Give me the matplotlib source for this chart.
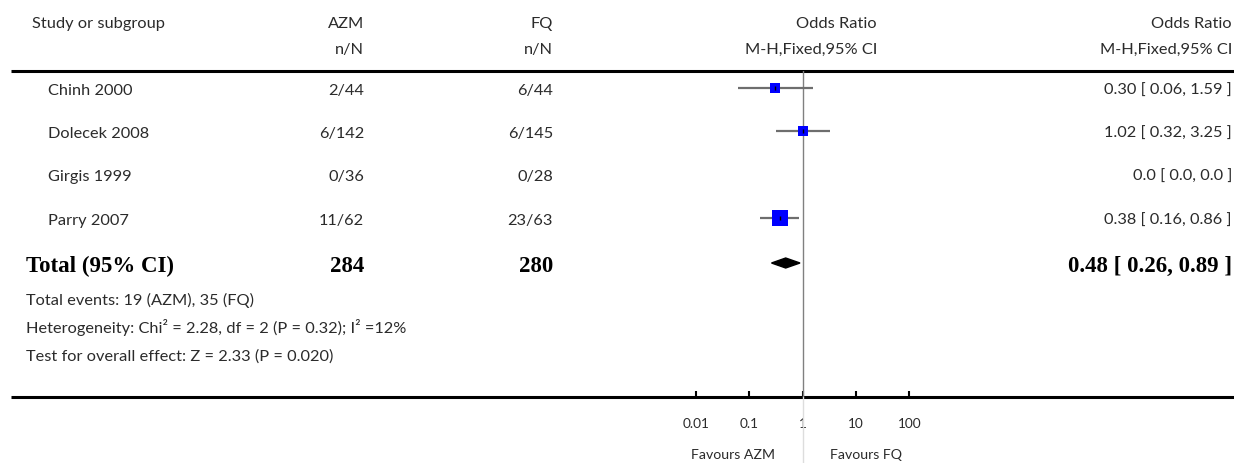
import numpy as np
import matplotlib
matplotlib.use("Agg")
import matplotlib.pyplot as plt
from matplotlib.patches import Polygon
from matplotlib.ticker import FixedLocator, FixedFormatter, NullLocator

# data
studies = ["Chinh 2000", "Dolecek 2008", "Girgis 1999", "Parry 2007"]
azm_n = [2, 6, 0, 11]
azm_N = [44, 142, 36, 62]
fq_n = [6, 6, 0, 23]
fq_N = [44, 145, 28, 63]
or_est = [0.30, 1.02, np.nan, 0.38]
or_lo = [0.06, 0.32, np.nan, 0.16]
or_hi = [1.59, 3.25, np.nan, 0.86]
total_or = 0.48
total_lo = 0.26
total_hi = 0.89
tick_vals = [0.01, 0.1, 1, 10, 100]
tick_labels = ["0.01", "0.1", "1", "10", "100"]

W, H = 1234, 463
fig = plt.figure(figsize=(W / 100, H / 100), dpi=100)

# background axes in pixel units for the table part
bg = fig.add_axes([0, 0, 1, 1])
bg.set_xlim(0, W)
bg.set_ylim(H, 0)
bg.axis("off")

txt_col = "#2b2b2b"
sans = dict(family=["Lato", "DejaVu Sans"], fontweight="normal", color=txt_col)
serif = dict(family=["Liberation Serif", "DejaVu Serif"], fontweight="bold", color="black")
fs = 11.8

y_head1, y_head2 = 24, 50
y_top, y_axis = 70.7, 397
row_y = [88, 131, 174, 218]
y_total = 263
x_azm, x_fq, x_mid, x_right = 364, 553, 877, 1232

bg.text(32, y_head1, "Study or subgroup", fontsize=fs, va="center", **sans)
bg.text(x_azm, y_head1, "AZM", fontsize=fs, ha="right", va="center", **sans)
bg.text(x_fq, y_head1, "FQ", fontsize=fs, ha="right", va="center", **sans)
bg.text(x_azm, y_head2, "n/N", fontsize=fs, ha="right", va="center", **sans)
bg.text(x_fq, y_head2, "n/N", fontsize=fs, ha="right", va="center", **sans)
bg.text(x_mid, y_head1, "Odds Ratio", fontsize=fs, ha="right", va="center", **sans)
bg.text(x_mid, y_head2, "M-H,Fixed,95% CI", fontsize=fs, ha="right", va="center", **sans)
bg.text(x_right, y_head1, "Odds Ratio", fontsize=fs, ha="right", va="center", **sans)
bg.text(x_right, y_head2, "M-H,Fixed,95% CI", fontsize=fs, ha="right", va="center", **sans)

bg.plot([11, W], [y_top, y_top], color="black", lw=2.2, solid_capstyle="butt")
bg.plot([11, W], [y_axis, y_axis], color="black", lw=2.2, solid_capstyle="butt")

for i, s in enumerate(studies):
    y = row_y[i] + 3
    bg.text(48, y, s, fontsize=fs, va="center", **sans)
    bg.text(x_azm, y, f"{azm_n[i]}/{azm_N[i]}", fontsize=fs, ha="right", va="center", **sans)
    bg.text(x_fq, y, f"{fq_n[i]}/{fq_N[i]}", fontsize=fs, ha="right", va="center", **sans)
    if np.isnan(or_est[i]):
        lab = "0.0 [ 0.0, 0.0 ]"
    else:
        lab = f"{or_est[i]:.2f} [ {or_lo[i]:.2f}, {or_hi[i]:.2f} ]"
    bg.text(x_right, y, lab, fontsize=fs, ha="right", va="center", **sans)

bfs = 16.5
bg.text(26, y_total + 3, "Total (95% CI)", fontsize=bfs, va="center", **serif)
bg.text(x_azm, y_total + 3, str(sum(azm_N)), fontsize=bfs, ha="right", va="center", **serif)
bg.text(x_fq, y_total + 3, str(sum(fq_N)), fontsize=bfs, ha="right", va="center", **serif)
bg.text(x_right, y_total + 3, f"{total_or:.2f} [ {total_lo:.2f}, {total_hi:.2f} ]",
        fontsize=bfs, ha="right", va="center", **serif)

bg.text(26, 300, f"Total events: {sum(azm_n)} (AZM), {sum(fq_n)} (FQ)", fontsize=fs, va="center", **sans)
bg.text(26, 328, "Heterogeneity: Chi² = 2.28, df = 2 (P = 0.32); I² =12%", fontsize=fs, va="center", **sans)
bg.text(26, 357, "Test for overall effect: Z = 2.33 (P = 0.020)", fontsize=fs, va="center", **sans)

# forest plot axes: log scale, 1 decade = 53.3 px, OR=1 at x=802.7 px
dec = 53.33
x1 = 802.7
left_px, right_px = x1 - 3 * dec, x1 + 3 * dec
ax = fig.add_axes([left_px / W, (H - y_axis) / H, (right_px - left_px) / W, (y_axis - y_top) / H])
ax.set_xscale("log")
ax.set_xlim(1e-3, 1e3)
ax.set_ylim(y_axis, y_top)
ax.patch.set_alpha(0)
for sp in ax.spines.values():
    sp.set_visible(False)
ax.yaxis.set_visible(False)
ax.xaxis.set_major_locator(FixedLocator(tick_vals))
ax.xaxis.set_major_formatter(FixedFormatter(tick_labels))
ax.xaxis.set_minor_locator(NullLocator())
ax.tick_params(axis="x", direction="in", length=4, width=1.5, pad=15,
               labelsize=9.8, labelcolor=txt_col)
for t in ax.get_xticklabels():
    t.set_family(["Lato", "DejaVu Sans"])

ax.axvline(1, color="#808080", lw=1)
ax.plot([1, 1], [y_axis, y_axis + 70], color="#dddddd", lw=1, clip_on=False)

# Mantel-Haenszel weights give the box sizes
wts = [fq_n[i] * (azm_N[i] - azm_n[i]) / (azm_N[i] + fq_N[i]) for i in range(len(studies))]
for i in range(len(studies)):
    if np.isnan(or_est[i]):
        continue
    y = row_y[i]
    ax.plot([or_lo[i], or_hi[i]], [y, y], color="#6e6e6e", lw=1.6, solid_capstyle="butt")
    side = 5.35 * np.sqrt(wts[i]) * 0.72
    ax.plot(or_est[i], y, marker="s", ms=side, color="#0000ff", mec="#0000ff", mew=0)
    ax.plot(or_est[i], y, marker="|", ms=3, color="black", mew=1)

dy = 5
diamond = Polygon([(total_lo, y_total), (total_or, y_total - dy), (total_hi, y_total),
                   (total_or, y_total + dy)], closed=True, color="black")
ax.add_patch(diamond)

# favours labels sit either side of the no-effect line, just under the tick labels
fav = dict(va="center", fontsize=10.2, family=["Lato", "DejaVu Sans"], color=txt_col,
           xycoords=("data", "figure pixels"), textcoords="offset pixels", annotation_clip=False)
ax.annotate("Favours AZM", xy=(1, H - 455), xytext=(-28, 0), ha="right", **fav)
ax.annotate("Favours FQ", xy=(1, H - 455), xytext=(27, 0), ha="left", **fav)

fig.savefig("out.png", dpi=100)
